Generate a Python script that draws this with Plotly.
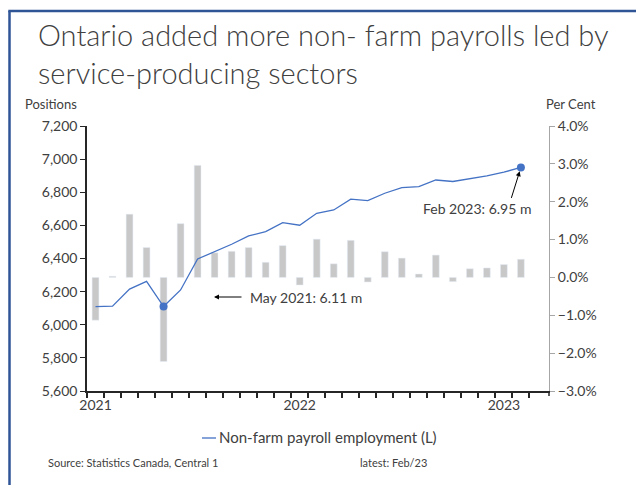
import plotly.graph_objects as go

months = ["Jan 2021", "Feb 2021", "Mar 2021", "Apr 2021", "May 2021", "Jun 2021",
          "Jul 2021", "Aug 2021", "Sep 2021", "Oct 2021", "Nov 2021", "Dec 2021",
          "Jan 2022", "Feb 2022", "Mar 2022", "Apr 2022", "May 2022", "Jun 2022",
          "Jul 2022", "Aug 2022", "Sep 2022", "Oct 2022", "Nov 2022", "Dec 2022",
          "Jan 2023", "Feb 2023"]
tick_labels = ["2021" if m == "Jan 2021" else "2022" if m == "Jan 2022" else "2023" if m == "Jan 2023" else "" for m in months]

payrolls = [6110, 6112, 6215, 6262, 6110, 6210, 6397, 6441, 6486, 6536, 6562, 6617,
            6601, 6673, 6693, 6758, 6749, 6794, 6828, 6834, 6874, 6865, 6880, 6899,
            6921, 6950]
pct_change = [-1.13, 0.03, 1.67, 0.79, -2.22, 1.42, 2.96, 0.65, 0.69, 0.79, 0.40, 0.84,
              -0.20, 1.01, 0.36, 0.98, -0.12, 0.68, 0.51, 0.09, 0.59, -0.11, 0.23, 0.25,
              0.34, 0.48]
highlight = ["May 2021", "Feb 2023"]
highlight_vals = [payrolls[months.index(m)] for m in highlight]

FONT = "Lato"
TXT = "#404040"
BLUE = "#4472C4"

fig = go.Figure()
fig.add_trace(go.Bar(x=months, y=pct_change, marker_color="#C8C8C8", width=0.4,
                     yaxis="y", showlegend=False))
fig.add_trace(go.Scatter(x=months, y=payrolls, mode="lines", line=dict(color=BLUE, width=1.3),
                         yaxis="y2", showlegend=False))
fig.add_trace(go.Scatter(x=highlight, y=highlight_vals, mode="markers",
                         marker=dict(color=BLUE, size=8), yaxis="y2", showlegend=False))

L, R, T, B = 87, 549, 126, 391
W, H = 636, 485
def px(x):
    return (x - L) / (R - L)
def py(y):
    return (B - y) / (B - T)

fig.update_layout(
    width=W, height=H,
    margin=dict(l=L, r=W - R, t=T, b=H - B, pad=0),
    plot_bgcolor="white", paper_bgcolor="white",
    font=dict(family=FONT, color=TXT, size=14),
    bargap=0.6,
    xaxis=dict(type="category", tickvals=months, ticktext=tick_labels, tickson="boundaries",
               ticks="outside", ticklen=5, tickwidth=1.5, tickcolor="#262626",
               showline=True, linecolor="#262626", linewidth=2, showgrid=False,
               tickfont=dict(size=14, color=TXT), tickangle=0),
    yaxis=dict(side="right", range=[-3, 4], dtick=1, tickformat=".1f", ticksuffix="%",
               ticks="outside", ticklen=5, tickcolor="#A6A6A6", showline=True,
               linecolor="#A6A6A6", linewidth=1, showgrid=False, zeroline=False,
               tickfont=dict(size=14, color=TXT)),
    yaxis2=dict(side="left", overlaying="y", range=[5600, 7200], dtick=200, tickformat=",",
                ticks="outside", ticklen=5, tickcolor="#262626", showline=True,
                linecolor="#262626", linewidth=1.5, showgrid=False, zeroline=False,
                tickfont=dict(size=14, color=TXT)),
)

def note(text, x, y, size, anchor="left", **kw):
    return dict(text=text, x=px(x), y=py(y), xref="paper", yref="paper", xanchor=anchor,
                yanchor="middle", showarrow=False, font=dict(size=size, color=TXT, **kw))

ann = []
ann.append(dict(text="Ontario added more non- farm payrolls led by<br>service-producing sectors",
                x=px(36), y=py(53), xref="paper", yref="paper", xanchor="left", yanchor="middle",
                align="left", showarrow=False,
                font=dict(family=FONT, size=29, color=TXT, weight=300)))
ann.append(note("Positions", 51, 104, 13, anchor="center"))
ann.append(note("Per Cent", 571, 104, 13, anchor="center"))
ann.append(note("Non-farm payroll employment (L)", 217, 437, 15))
ann.append(note("Source: Statistics Canada, Central 1", 46, 462, 11))
ann.append(note("latest: Feb/23", 358, 462, 11))
# May 2021 annotation
ann.append(note("May 2021: 6.11 m", 248, 297, 14))
ann.append(dict(text="", x=px(214), y=py(297), xref="paper", yref="paper",
                ax=29, ay=0, showarrow=True, arrowhead=2, arrowsize=1, arrowwidth=1,
                arrowcolor="black"))
# Feb 2023 annotation
ann.append(note("Feb 2023: 6.95 m", 421, 208, 14))
ann.append(dict(text="", x="Feb 2023", y=highlight_vals[1], xref="x", yref="y2",
                ax=-10, ay=32, showarrow=True, arrowhead=2, arrowsize=1, arrowwidth=1,
                arrowcolor="black", standoff=4))
fig.update_layout(annotations=ann)

shapes = [
    dict(type="line", xref="paper", yref="paper", x0=px(9.5), x1=px(9.5), y0=py(11), y1=py(490),
         line=dict(color="#2F5597", width=2.5)),
    dict(type="line", xref="paper", yref="paper", x0=px(8.3), x1=px(640), y0=py(11), y1=py(11),
         line=dict(color="#2F5597", width=2.5)),
    dict(type="line", xref="paper", yref="paper", x0=px(202), x1=px(216), y0=py(438), y1=py(438),
         line=dict(color=BLUE, width=1.3)),
    dict(type="line", xref="paper", yref="paper", x0=1, x1=1, y0=0, y1=py(396),
         line=dict(color="#262626", width=1.5)),
]
fig.update_layout(shapes=shapes)

fig.write_html("out.html")
